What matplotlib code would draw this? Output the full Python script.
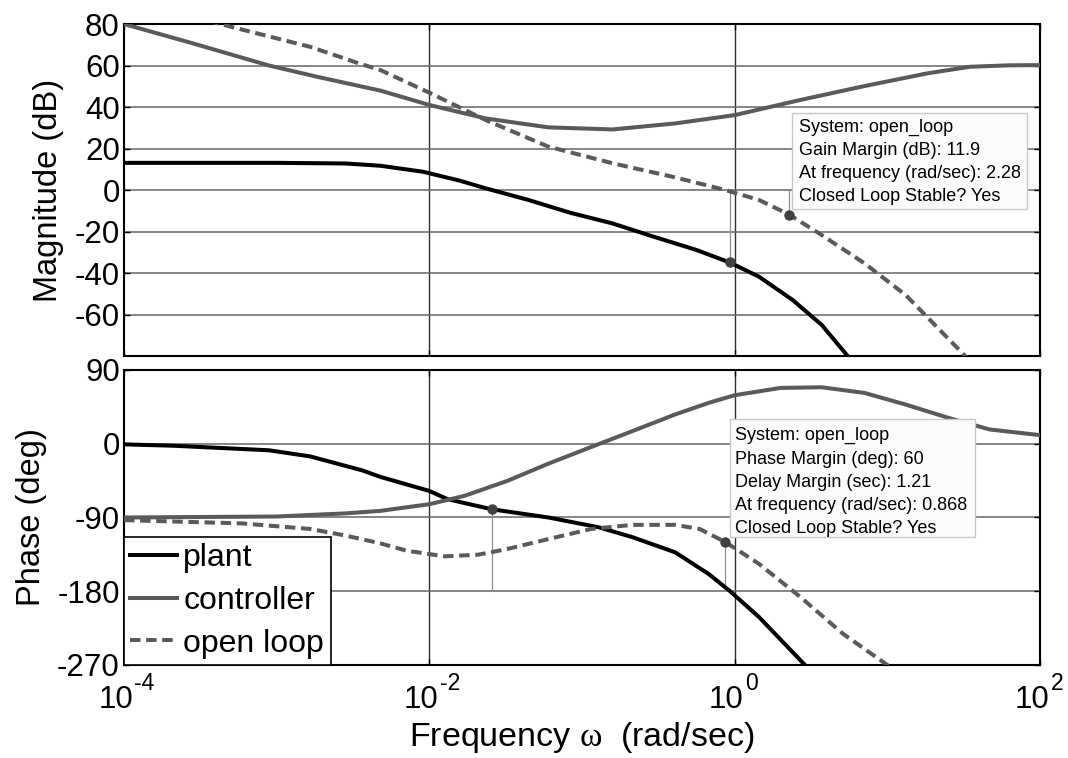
import numpy as np
import matplotlib
matplotlib.use('Agg')
import matplotlib.pyplot as plt
from matplotlib.patches import Rectangle
from matplotlib.ticker import FixedLocator

plt.rcParams['font.family'] = ['Liberation Sans', 'DejaVu Sans']
plt.rcParams['mathtext.fontset'] = 'custom'
plt.rcParams['mathtext.rm'] = 'Liberation Serif'
plt.rcParams['axes.unicode_minus'] = False

# frequencies are given as log10(w)
plant_mag_lw = [-4, -3, -2.55, -2.32, -2.04, -1.80, -1.63, -1.35, -1.08, -0.80, -0.53, -0.25,
                -0.033, 0.16, 0.38, 0.57, 0.74, 0.85]
plant_mag = [13.1, 13.1, 12.8, 11.7, 8.8, 4.5, 0.8, -4.8, -10.9, -16.1, -22.5, -28.9,
             -34.9, -41.8, -53, -65, -80, -90]

ctrl_mag_lw = [-4, -3.55, -3.05, -2.73, -2.32, -2.0, -1.63, -1.22, -0.80, -0.39, 0,
               0.43, 0.85, 1.26, 1.54, 1.8, 2.0]
ctrl_mag = [80, 70.7, 60, 54.5, 47.9, 41, 34.5, 30.2, 29.2, 32.1, 36.1,
            43.4, 50.1, 56.2, 59.4, 60.1, 60.2]

ol_mag_lw = [-4, -3.37, -2.78, -2.46, -2.32, -2.0, -1.63, -1.22, -0.80, -0.39, -0.061, 0.16,
             0.358, 0.57, 0.85, 1.12, 1.51, 1.6]
ol_mag = [93, 80, 69, 61, 57.8, 46.9, 33.7, 20.9, 12.9, 6.1, 0, -4.8,
          -11.9, -21.7, -35.3, -50.6, -80, -86]

plant_ph_lw = [-4, -3.68, -3.05, -2.78, -2.44, -2.32, -2.0, -1.88, -1.59, -1.22, -0.89, -0.67,
               -0.39, -0.17, -0.03, 0.16, 0.46, 0.55]
plant_ph = [-0.8, -2.4, -8, -15.5, -32.5, -40.5, -57.6, -67.7, -80, -90, -102, -114,
            -132.5, -159, -180, -211.6, -270, -290]

ctrl_ph_lw = [-4, -3.0, -2.55, -2.32, -2.0, -1.77, -1.49, -1.22, -0.94, -0.67, -0.39, -0.17,
              0, 0.30, 0.57, 0.85, 1.12, 1.40, 1.67, 2.0]
ctrl_ph = [-90, -88.8, -85, -81.9, -73.8, -63.6, -45.4, -24.3, -4, 15.4, 35.7, 49.9,
           59.2, 68.1, 68.9, 62, 47.8, 31.6, 17.4, 10.5]

ol_ph_lw = [-4, -3.23, -2.78, -2.55, -2.32, -2.15, -1.90, -1.68, -1.49, -1.22, -0.94, -0.67,
            -0.39, -0.23, -0.061, 0.16, 0.43, 0.71, 1.0, 1.1]
ol_ph = [-93.2, -97.2, -104, -112, -121.6, -130.5, -137.4, -135.4, -128.5, -116.3, -104, -99,
         -99, -104, -120, -146.7, -187, -232, -270, -282]

# stability margins
gm_w, gm_db = 2.28, -11.9          # open loop gain margin 11.9 dB
pm_w, pm_deg = 0.868, -120.0       # open loop phase margin 60 deg
plant_gm_w, plant_gm_db = 0.927, -34.9
plant_pm_w, plant_pm_deg = 0.0257, -80.0

labels = ['plant', 'controller', 'open loop']
decade_exps = [-4, -2, 0, 2]
gm_text = ('System: open_loop\nGain Margin (dB): 11.9\n'
           'At frequency (rad/sec): 2.28\nClosed Loop Stable? Yes')
pm_text = ('System: open_loop\nPhase Margin (deg): 60\nDelay Margin (sec): 1.21\n'
           'At frequency (rad/sec): 0.868\nClosed Loop Stable? Yes')

dark = '#5a5a5a'
lw = 2.9
dash = (2.6, 1.4)

fig = plt.figure(figsize=(10.68, 7.58), dpi=100)
ax1 = fig.add_axes([0.1161, 0.5303, 0.8577, 0.438])
ax2 = fig.add_axes([0.1161, 0.1227, 0.8577, 0.3892])

def w(lw_list):
    return 10.0 ** np.array(lw_list)

ax1.plot(w(plant_mag_lw), plant_mag, color='k', lw=lw, zorder=3)
ax1.plot(w(ctrl_mag_lw), ctrl_mag, color=dark, lw=lw, zorder=3)
ax1.plot(w(ol_mag_lw), ol_mag, color=dark, lw=lw, dashes=dash, zorder=3)

ax2.plot(w(plant_ph_lw), plant_ph, color='k', lw=lw, zorder=3, label=labels[0])
ax2.plot(w(ctrl_ph_lw), ctrl_ph, color=dark, lw=lw, zorder=3, label=labels[1])
ax2.plot(w(ol_ph_lw), ol_ph, color=dark, lw=lw, dashes=dash, zorder=3, label=labels[2])

# margin markers
ax1.plot([plant_gm_w, plant_gm_w], [0, plant_gm_db], color='#909090', lw=0.9, zorder=2)
ax1.plot([gm_w, gm_w], [0, gm_db], color='#909090', lw=0.9, zorder=2)
ax1.plot([plant_gm_w, gm_w], [plant_gm_db, gm_db], 'o', color='#404040', ms=6.5, zorder=4)
ax2.plot([plant_pm_w, plant_pm_w], [-180, plant_pm_deg], color='#909090', lw=0.9, zorder=2)
ax2.plot([pm_w, pm_w], [-180, pm_deg], color='#909090', lw=0.9, zorder=2)
ax2.plot([plant_pm_w, pm_w], [plant_pm_deg, pm_deg], 'o', color='#404040', ms=6.5, zorder=4)

decades = [10.0 ** e for e in decade_exps]
for ax in (ax1, ax2):
    ax.set_xscale('log')
    ax.set_xlim(decades[0], decades[-1])
    ax.xaxis.set_major_locator(FixedLocator(decades))
    ax.xaxis.set_minor_locator(FixedLocator([]))
    for d in decades[1:-1]:
        ax.axvline(d, color='#303030', lw=1.0, zorder=1)
    for s in ax.spines.values():
        s.set_linewidth(1.5)
    ax.tick_params(direction='in', length=4, width=1, top=True, right=True,
                   labelsize=22.5, pad=3, labelbottom=False)

ax1.set_ylim(-80, 80)
ax1.set_yticks([80, 60, 40, 20, 0, -20, -40, -60])
for v in [60, 40, 20, 0, -20, -40, -60]:
    ax1.axhline(v, color='#666666', lw=1.1, zorder=1)
ax1.set_ylabel('Magnitude (dB)', fontsize=23.5)

ax2.set_ylim(-270, 90)
ax2.set_yticks([90, 0, -90, -180, -270])
for v in [0, -90, -180]:
    ax2.axhline(v, color='#666666', lw=1.1, zorder=1)

# decade labels written as "10" with a raised exponent
for e, d in zip(decade_exps, decades):
    ax2.annotate('10', xy=(d, 0), xycoords=('data', 'axes fraction'),
                 xytext=(6.5, -14.5), textcoords='offset points',
                 ha='right', va='top', fontsize=22.5)
    ax2.annotate(str(e), xy=(d, 0), xycoords=('data', 'axes fraction'),
                 xytext=(7.5, -5), textcoords='offset points',
                 ha='left', va='top', fontsize=16.5)

ax2.set_ylabel('Phase (deg)', fontsize=23.5)
ax2.set_xlabel(r'Frequency $\mathrm{\omega}$  (rad/sec)', fontsize=24.5, va='top')
ax1.yaxis.set_label_coords(-0.066, 0.5)
ax2.yaxis.set_label_coords(-0.084, 0.5)
ax2.xaxis.set_label_coords(0.5, -0.185)

leg = ax2.legend(loc='lower left', fontsize=23, borderaxespad=0, handlelength=1.47,
                 handletextpad=0.19, labelspacing=0.4, borderpad=0.2,
                 fancybox=False, framealpha=1, edgecolor='k')
leg.get_frame().set_linewidth(1.2)
leg.set_zorder(5)

# data tip boxes
tips = [(ax1, (0.729, 0.443, 0.257, 0.289), 0.737, 0.716, gm_text),
        (ax2, (0.662, 0.434, 0.267, 0.400), 0.667, 0.806, pm_text)]
for ax, (x0, y0, bw, bh), tx, ty, txt in tips:
    ax.add_patch(Rectangle((x0, y0), bw, bh, transform=ax.transAxes, facecolor='#fbfbfb',
                           edgecolor='#c8c8c8', lw=1, zorder=6))
    ax.text(tx, ty, txt, transform=ax.transAxes, va='top', ha='left',
            fontsize=13, linespacing=1.47, zorder=7)

fig.savefig('out.png', dpi=100)
